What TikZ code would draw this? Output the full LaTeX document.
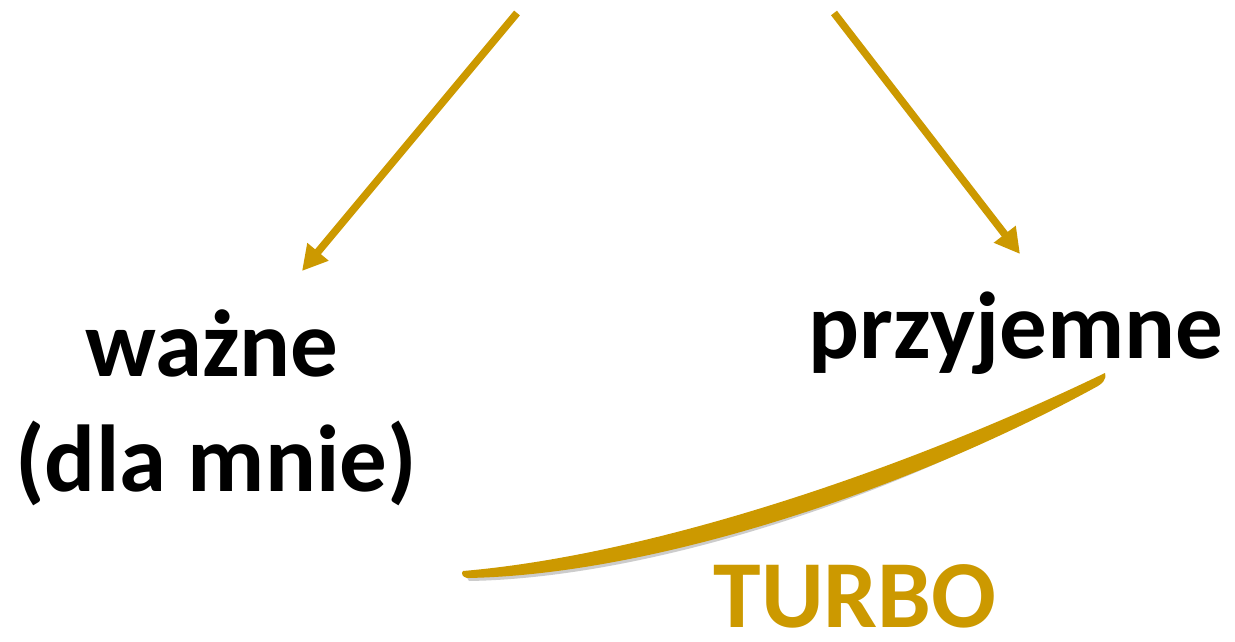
\documentclass[tikz,border=0pt]{standalone}
\usepackage{fontspec}
\setmainfont{Carlito}
\usetikzlibrary{arrows.meta,calc}
\definecolor{gold}{HTML}{CC9900}
\tikzset{
  goldarrow/.style={draw=gold, line width=7.5pt, -{Triangle[length=25pt,width=26pt]}},
  bigword/.style={anchor=base, inner sep=0pt, font=\fontsize{95}{115}\selectfont\bfseries},
  turboword/.style={anchor=base, inner sep=0pt, text depth=0pt, text=gold, font=\fontsize{96}{115}\selectfont\bfseries},
}
\begin{document}
\begin{tikzpicture}[x=1pt,y=-1pt]
\path[use as bounding box, fill=white] (0,0) rectangle (1235,642);
% coordinates
\coordinate (s1) at (517,13);
\coordinate (e1) at (302,271);
\coordinate (s2) at (834,13);
\coordinate (e2) at (1020,254);
% texts
\node[bigword] (w1) at (212,376) {ważne};
\node[bigword] (w2) at (216,491) {(dla mnie)};
\node[bigword] (p) at (1016,358) {przyjemne};
\node[turboword] (t) at (855,627) {TURBO};
% arrows
\draw[goldarrow] (s1) -- (e1);
\draw[goldarrow] (s2) -- (e2);
% swoosh
\fill[black!20] (466,576) .. controls (650,562) and (902,480) .. (1106,377)
  .. controls (906,496) and (650,578) .. (469,581) -- cycle;
\fill[gold] (463,571) .. controls (650,555) and (900,472) .. (1105,373)
  .. controls (1107,380) and (1101,384) .. (1098,386)
  .. controls (905,492) and (650,575) .. (467,578)
  .. controls (462,577) and (461,573) .. (463,571) -- cycle;
\end{tikzpicture}
\end{document}
